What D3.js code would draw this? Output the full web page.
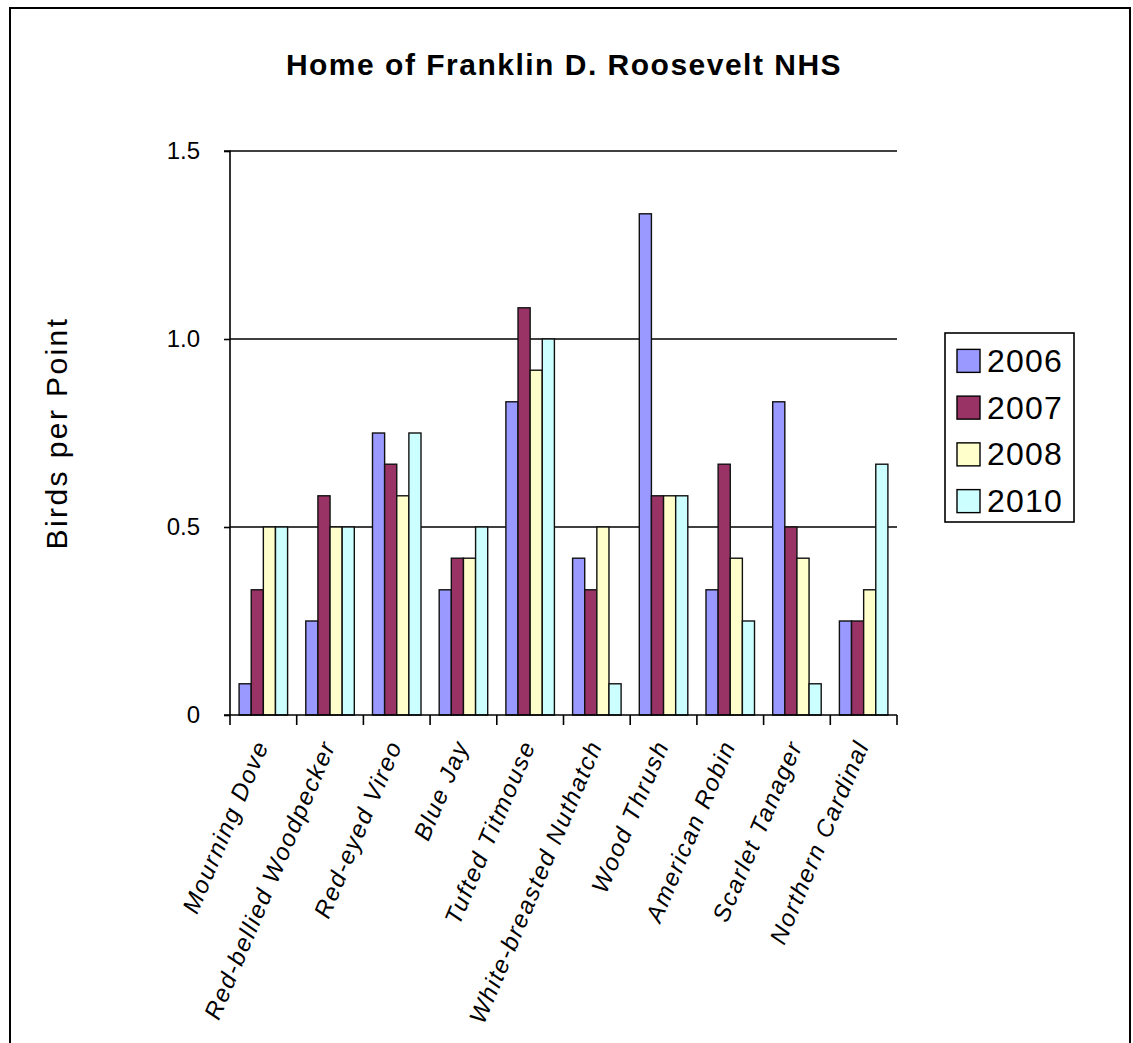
<!DOCTYPE html>
<html>
<head>
<meta charset="utf-8">
<script src="https://cdn.jsdelivr.net/npm/d3@7"></script>
<style>
  html, body { margin: 0; padding: 0; background: #fff; }
  svg { display: block; font-family: Arial, "Liberation Sans", sans-serif; }
</style>
</head>
<body>
<svg id="chart" width="1133" height="1043"></svg>
<script>
const title = "Home of Franklin D. Roosevelt NHS";
const yTitle = "Birds per Point";
const categories = ["Mourning Dove", "Red-bellied Woodpecker", "Red-eyed Vireo", "Blue Jay", "Tufted Titmouse",
  "White-breasted Nuthatch", "Wood Thrush", "American Robin", "Scarlet Tanager", "Northern Cardinal"];
const seriesNames = ["2006", "2007", "2008", "2010"];
const seriesColors = ["#9999FF", "#993366", "#FFFFCC", "#CCFFFF"];
const values2006 = [0.083, 0.25, 0.75, 0.333, 0.833, 0.417, 1.333, 0.333, 0.833, 0.25];
const values2007 = [0.333, 0.583, 0.667, 0.417, 1.083, 0.333, 0.583, 0.667, 0.5, 0.25];
const values2008 = [0.5, 0.5, 0.583, 0.417, 0.917, 0.5, 0.583, 0.417, 0.417, 0.333];
const values2010 = [0.5, 0.5, 0.75, 0.5, 1.0, 0.083, 0.583, 0.25, 0.083, 0.667];
const yTicks = [0, 0.5, 1.0, 1.5];
const yTickLabels = ["0", "0.5", "1.0", "1.5"];

const seriesValues = [values2006, values2007, values2008, values2010];

const svg = d3.select("#chart");
const FONT = "Arial, 'Liberation Sans', sans-serif";

// outer frame
svg.append("rect").attr("x", 10).attr("y", 8).attr("width", 1120).attr("height", 1060)
  .attr("fill", "none").attr("stroke", "#000").attr("stroke-width", 2);

const pLeft = 230, pRight = 897, pTop = 151, pBottom = 715;

const x = d3.scaleBand().domain(categories).range([pLeft, pRight])
  .paddingInner(1.5 / 5.5).paddingOuter(0.75 / 5.5);
const xOuter = d3.scaleBand().domain(categories).range([pLeft, pRight]);
const xs = d3.scaleBand().domain(seriesNames).range([0, x.bandwidth()]);
const y = d3.scaleLinear().domain([0, 1.5]).range([pBottom, pTop]);

// gridlines
svg.append("g").selectAll("line").data(yTicks.filter(d => d > 0)).join("line")
  .attr("x1", pLeft).attr("x2", pRight)
  .attr("y1", d => y(d)).attr("y2", d => y(d))
  .attr("stroke", "#000").attr("stroke-width", 1.3);

// bars
const groups = svg.append("g").selectAll("g").data(categories).join("g")
  .attr("transform", d => `translate(${x(d)},0)`);
groups.selectAll("rect").data((c, i) => seriesNames.map((s, j) => ({ s, j, v: seriesValues[j][i] })))
  .join("rect")
  .attr("x", d => xs(d.s))
  .attr("width", xs.bandwidth())
  .attr("y", d => y(d.v))
  .attr("height", d => y(0) - y(d.v))
  .attr("fill", d => seriesColors[d.j])
  .attr("stroke", "#111").attr("stroke-width", 1.4);

// y axis
const yAxis = d3.axisLeft(y).tickValues(yTicks).tickFormat((d, i) => yTickLabels[i]).tickSize(6).tickPadding(24);
const gy = svg.append("g").attr("transform", `translate(${pLeft},0)`).call(yAxis);
gy.select(".domain").attr("stroke", "#000").attr("stroke-width", 1.6).attr("d", `M-6,${pTop}H0V${pBottom}H-6`);
gy.selectAll(".tick line").attr("stroke", "#000").attr("stroke-width", 1.6);
gy.selectAll(".tick text").attr("font-size", 24).attr("fill", "#000").attr("font-family", FONT);

// x axis (ticks between categories)
const boundaries = categories.map(c => xOuter(c)).concat([pRight]);
svg.append("line").attr("x1", pLeft).attr("x2", pRight).attr("y1", pBottom).attr("y2", pBottom)
  .attr("stroke", "#000").attr("stroke-width", 1.6);
svg.append("g").selectAll("line").data(boundaries).join("line")
  .attr("x1", d => d).attr("x2", d => d).attr("y1", pBottom).attr("y2", pBottom + 10)
  .attr("stroke", "#000").attr("stroke-width", 1.6);

// x labels
svg.append("g").selectAll("text").data(categories).join("text")
  .attr("transform", d => `translate(${xOuter(d) + xOuter.bandwidth() / 2 + 6},${pBottom + 30}) rotate(-67)`)
  .attr("text-anchor", "end")
  .attr("font-size", 24)
  .attr("letter-spacing", "1.7px")
  .attr("font-style", "italic")
  .attr("fill", "#000")
  .text(d => d);

// title
svg.append("text").attr("x", 564).attr("y", 75).attr("text-anchor", "middle")
  .attr("font-size", 30).attr("letter-spacing", "1.5px").attr("font-weight", "bold").attr("fill", "#000").text(title);

// y title
svg.append("text").attr("transform", `translate(67,433) rotate(-90)`).attr("text-anchor", "middle")
  .attr("font-size", 30).attr("letter-spacing", "2.4px").attr("fill", "#000").text(yTitle);

// legend
const lg = svg.append("g");
lg.append("rect").attr("x", 945).attr("y", 333).attr("width", 129).attr("height", 189)
  .attr("fill", "#fff").attr("stroke", "#000").attr("stroke-width", 1.6);
const ly = d3.scaleBand().domain(seriesNames).range([337, 524]);
const items = lg.selectAll("g").data(seriesNames).join("g")
  .attr("transform", d => `translate(0,${ly(d) + ly.bandwidth() / 2})`);
items.append("rect").attr("x", 957).attr("y", -11).attr("width", 23).attr("height", 23)
  .attr("fill", (d, i) => seriesColors[i]).attr("stroke", "#000").attr("stroke-width", 1.4);
items.append("text").attr("x", 987).attr("y", 0).attr("dy", "0.36em")
  .attr("font-size", 32).attr("letter-spacing", "1.2px").attr("fill", "#000").text(d => d);
</script>
</body>
</html>
